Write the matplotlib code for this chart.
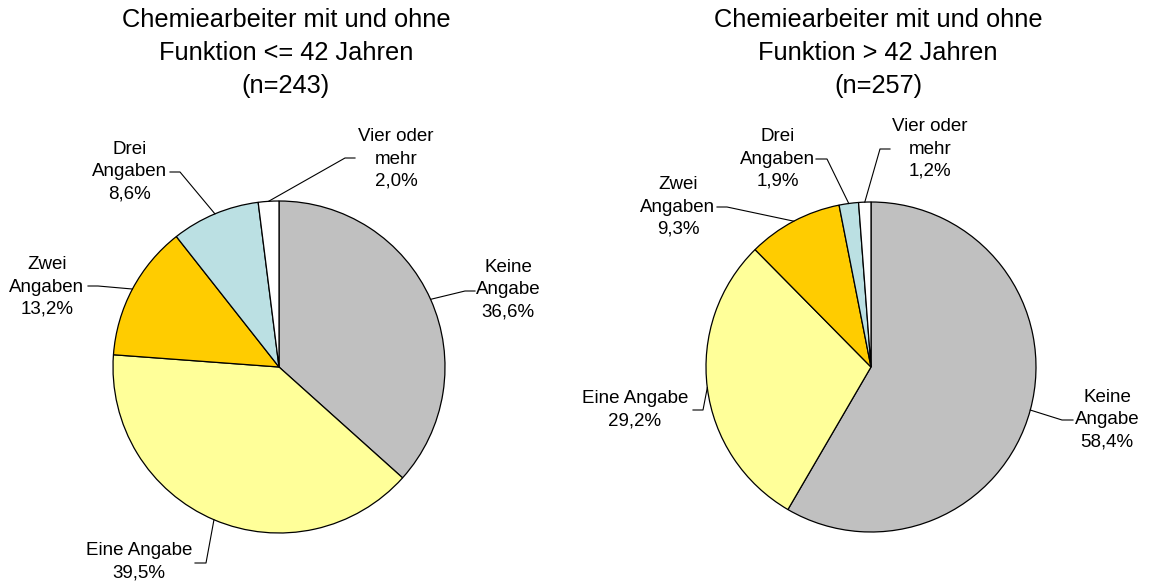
import matplotlib
matplotlib.use("Agg")
import matplotlib.pyplot as plt
import math

plt.rcParams['font.family'] = ['Liberation Sans', 'DejaVu Sans']

categories = ["Keine\nAngabe", "Eine Angabe", "Zwei\nAngaben", "Drei\nAngaben", "Vier oder\nmehr"]
values_young = [36.6, 39.5, 13.2, 8.6, 2.0]
values_old = [58.4, 29.2, 9.3, 1.9, 1.2]
titles = ["Chemiearbeiter mit und ohne\nFunktion <= 42 Jahren\n(n=243)",
          "Chemiearbeiter mit und ohne\nFunktion > 42 Jahren\n(n=257)"]
colors = ["#C0C0C0", "#FFFF99", "#FFCC00", "#BBE0E3", "#FFFFFF"]

W, H = 1151, 584
fig = plt.figure(figsize=(W / 100, H / 100), dpi=100)
ax = fig.add_axes([0, 0, 1, 1])


def fy(py):
    return H - py


def fmt(v):
    return f"{v:.1f}".replace(".", ",") + "%"


# layout: pie centres/radius and label positions (pixels)
pies = [
    dict(values=values_young, center=(279, 367), r=166, title_xy=(286, 53),
         labels=[((508, 290), [(475, 291), (465, 291)]),
                 ((139, 562), [(195, 563), (206, 563)]),
                 ((47, 287), [(88, 286), (98, 286)]),
                 ((130, 172), [(170, 172), (180, 172)]),
                 ((396, 159), [(355, 158), (345, 158)])]),
    dict(values=values_old, center=(871, 367), r=165, title_xy=(878, 53),
         labels=[((1107, 420), [(1073, 420), (1062, 420)]),
                 ((635, 410), [(693, 410), (703, 410)]),
                 ((678, 207), [(717, 207), (727, 207)]),
                 ((778, 159), [(816, 159), (827, 159)]),
                 ((930, 149), [(890, 149), (880, 149)])]),
]

for p in pies:
    cx, cy = p["center"]
    wedges, _ = ax.pie(p["values"], colors=colors, startangle=90, counterclock=False,
                       center=(cx, fy(cy)), radius=p["r"],
                       wedgeprops=dict(edgecolor="black", linewidth=0.9))
    for w, cat, v, (lxy, elbow) in zip(wedges, categories, p["values"], p["labels"]):
        mid = math.radians((w.theta1 + w.theta2) / 2)
        axp = cx + p["r"] * math.cos(mid)
        ayp = fy(cy) + p["r"] * math.sin(mid)
        xs = [elbow[0][0], elbow[1][0], axp]
        ys = [fy(elbow[0][1]), fy(elbow[1][1]), ayp]
        ax.plot(xs, ys, color="black", lw=0.8)
        ax.text(lxy[0], fy(lxy[1]), cat + "\n" + fmt(v), ha="center", va="center",
                fontsize=13.5, linespacing=1.42)

for p, t in zip(pies, titles):
    ax.text(p["title_xy"][0], fy(p["title_xy"][1]), t, ha="center", va="center",
            fontsize=18.3, linespacing=1.49)

ax.set_xlim(0, W)
ax.set_ylim(0, H)
ax.set_aspect("auto")
ax.axis("off")
fig.savefig("out.png", dpi=100)
